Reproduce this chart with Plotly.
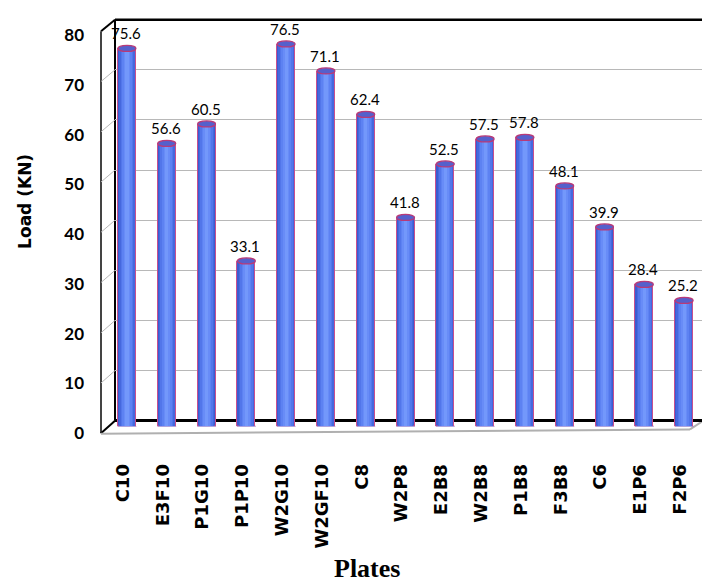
import plotly.graph_objects as go

# Maximum load per plate specimen
plates = ["C10", "E3F10", "P1G10", "P1P10", "W2G10", "W2GF10", "C8", "W2P8",
          "E2B8", "W2B8", "P1B8", "F3B8", "C6", "E1P6", "F2P6"]
loads = [75.6, 56.6, 60.5, 33.1, 76.5, 71.1, 62.4, 41.8,
         52.5, 57.5, 57.8, 48.1, 39.9, 28.4, 25.2]
y_ticks = [0, 10, 20, 30, 40, 50, 60, 70, 80]

W, H = 702, 584


def px(x):
    return x / W


def py(y):
    return 1 - y / H


idx = list(range(len(plates)))
pitch = 39.8
first = 127.0
x_range = [-first / pitch, (W - first) / pitch]

fig = go.Figure()

# back wall grid (subplot x/y)
fig.add_trace(go.Scatter(x=[0.5], y=[0], mode="markers", marker=dict(opacity=0),
                         hoverinfo="skip", showlegend=False, xaxis="x", yaxis="y"))

# cylinder bodies: stacked narrower bars give a rounded shading
shades = [(0.45, "#3a5cd0"), (0.39, "#4568de"), (0.32, "#5276ea"),
          (0.24, "#5d82f2"), (0.16, "#688cf7"), (0.08, "#7398fb")]
for k, (w, c) in enumerate(shades):
    fig.add_trace(go.Bar(
        x=idx, y=loads, width=w, marker=dict(
            color=c,
            line=dict(color="#c8508e" if k == 0 else c, width=1 if k == 0 else 0)),
        hoverinfo="skip", showlegend=False, xaxis="x2", yaxis="y2"))

# front-face axis for the tick labels
fig.add_trace(go.Scatter(x=[0], y=[0], mode="markers", marker=dict(opacity=0),
                         hoverinfo="skip", showlegend=False, xaxis="x3", yaxis="y3"))

shapes = []
half_w = 0.225
half_h = 0.6
for i, v in zip(idx, loads):
    # base ellipse, behind the body
    shapes.append(dict(type="circle", xref="x2", yref="y2", layer="below",
                       x0=i - half_w, x1=i + half_w, y0=-half_h, y1=half_h,
                       fillcolor="#5479ea", line=dict(color="#d0609c", width=1)))
    # top cap
    shapes.append(dict(type="circle", xref="x2", yref="y2", layer="above",
                       x0=i - half_w, x1=i + half_w, y0=v - half_h, y1=v + half_h,
                       fillcolor="#5560cc", line=dict(color="#b83a78", width=1.2)))

# box frame: left wall, top edge, floor edges
frame = dict(type="line", xref="paper", yref="paper", layer="below")
shapes += [
    dict(frame, x0=px(115), x1=px(W), y0=py(9), y1=py(9), line=dict(color="black", width=2.5)),
    dict(frame, x0=px(101), x1=px(115), y0=py(21), y1=py(9), line=dict(color="black", width=2)),
    dict(frame, x0=px(115), x1=px(115), y0=py(9), y1=py(425), line=dict(color="black", width=2)),
    dict(frame, x0=px(101), x1=px(101), y0=py(21), y1=py(438), line=dict(color="#444444", width=2)),
    dict(frame, x0=px(101), x1=px(115), y0=py(438), y1=py(425), line=dict(color="black", width=2)),
    dict(frame, x0=px(101), x1=px(690), y0=py(438.5), y1=py(434), line=dict(color="#b0b0b0", width=2)),
    dict(frame, x0=px(690), x1=px(W), y0=py(434), y1=py(426), line=dict(color="#b0b0b0", width=2)),
]
# gridline returns on the left wall
for t in y_ticks[1:-1]:
    y_front = 438 - t * (438 - 21) / 80
    y_back = 425 - t * (425 - 9) / 80
    shapes.append(dict(frame, x0=px(101), x1=px(115), y0=py(y_front), y1=py(y_back),
                       line=dict(color="#b8b8b8", width=1)))

annotations = []
for i, v in zip(idx, loads):
    annotations.append(dict(x=i, y=v, xref="x2", yref="y2", text=f"{v:.1f}",
                            showarrow=False, yshift=15, xshift=-1,
                            font=dict(family="Lato", size=15, color="black")))

annotations.append(dict(x=px(25), y=py(198), xref="paper", yref="paper",
                        xanchor="center", yanchor="middle",
                        text="<b>Load (KN)</b>", textangle=-90, showarrow=False,
                        font=dict(family="DejaVu Sans", size=17, color="black")))
annotations.append(dict(x=px(367), y=py(578), xref="paper", yref="paper",
                        xanchor="center", yanchor="middle",
                        text="<b>Plates</b>", showarrow=False,
                        font=dict(family="Liberation Serif", size=26, color="black")))

fig.update_layout(
    width=W, height=H,
    margin=dict(l=0, r=0, t=0, b=0),
    paper_bgcolor="white", plot_bgcolor="rgba(0,0,0,0)",
    barmode="overlay", bargap=0,
    showlegend=False,
    shapes=shapes, annotations=annotations,
    xaxis=dict(domain=[px(115), 1], range=[0, 1], visible=False, anchor="y"),
    yaxis=dict(domain=[py(425), py(9)], range=[0, 80], anchor="x",
               tickvals=y_ticks, showticklabels=False, ticks="",
               showgrid=True, gridcolor="#b8b8b8", gridwidth=1,
               zeroline=True, zerolinecolor="black", zerolinewidth=2.5,
               showline=False),
    xaxis2=dict(domain=[0, 1], range=x_range, anchor="y2",
                tickvals=idx, ticktext=plates, tickangle=-90, ticks="",
                ticklabelstandoff=33, ticklabelshift=-4,
                tickfont=dict(family="DejaVu Sans", size=18, color="black", weight="bold"),
                showgrid=False, zeroline=False, showline=False),
    yaxis2=dict(domain=[py(431), py(16)], range=[0, 80], anchor="x2", visible=False),
    xaxis3=dict(domain=[0, 1], range=[0, 1], anchor="y3", visible=False),
    yaxis3=dict(domain=[py(438), py(25)], range=[0, 80], anchor="free",
                position=px(100), side="left", tickvals=y_ticks, ticks="",
                ticklabelstandoff=16,
                tickfont=dict(family="Lato", size=17, color="black", weight="bold"),
                showgrid=False, zeroline=False, showline=False),
)

fig.write_html("out.html")
